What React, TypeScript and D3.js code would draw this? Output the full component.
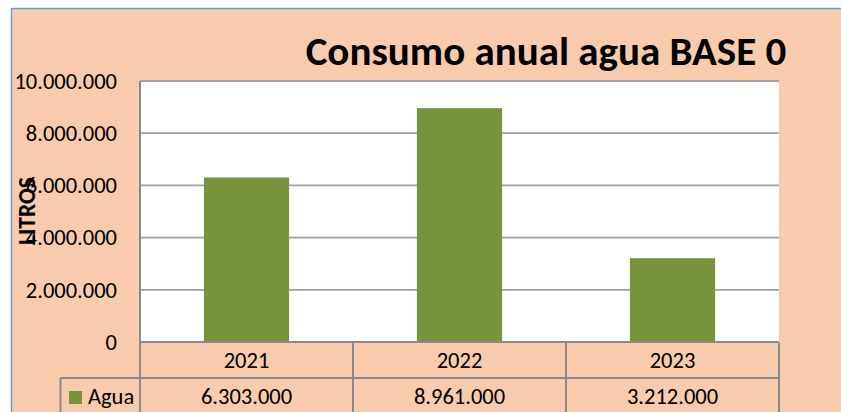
import React from "react";
import * as d3 from "d3";

const categories = ["2021", "2022", "2023"];
const seriesName = "Agua";
const values = [6303000, 8961000, 3212000];
const yTicks = [0, 2000000, 4000000, 6000000, 8000000, 10000000];
const title = "Consumo anual agua BASE 0";
const yTitle = "LITROS";

const W = 841;
const H = 412;
const FONT = "Carlito, Calibri, 'Liberation Sans', sans-serif";
const fmt = (v: number) => (v === 0 ? "0" : d3.format(",")(v).replace(/,/g, "."));

export default function App() {
  const left = 140, right = 779, top = 81, bottom = 342;
  const y = d3.scaleLinear().domain([0, 10000000]).range([bottom, top]);
  const x = d3.scaleBand<string>().domain(categories).range([left, right]).paddingInner(0.6).paddingOuter(0.3);
  const step = x.step();
  const row1 = 378;
  const rowBottom = 414;
  const grid = "#a0a0a0";
  const tbl = "#8a8a8a";
  return (
    <svg width={W} height={H} style={{ position: "absolute", left: 0, top: 0, display: "block" }} fontFamily={FONT}>
      <rect x={0} y={0} width={W} height={H} fill="#ffffff" />
      <rect x={11} y={8} width={W} height={H} fill="#F8CBAD" />
      <line x1={11} y1={8.5} x2={W} y2={8.5} stroke="#6c9bd6" strokeWidth={1.5} />
      <line x1={11.5} y1={8} x2={11.5} y2={H} stroke="#6c9bd6" strokeWidth={1.5} />
      <text x={546} y={65} textAnchor="middle" fontSize={41} fontWeight="bold" fill="#000">{title}</text>
      <rect x={left} y={top} width={right - left} height={bottom - top} fill="#ffffff" />
      {yTicks.map((t) => (
        <g key={t}>
          {t > 0 && <line x1={left} x2={right} y1={y(t)} y2={y(t)} stroke={grid} strokeWidth={1.8} />}
          <text x={117} y={y(t)} dy="0.35em" textAnchor="end" fontSize={22.5} fill="#000">{fmt(t)}</text>
        </g>
      ))}
      {values.map((v, i) => (
        <rect key={categories[i]} x={x(categories[i])!} y={y(v)} width={x.bandwidth()} height={bottom - y(v)} fill="#77933C" />
      ))}
      <text transform={`translate(35,211) rotate(-90)`} textAnchor="middle" fontSize={23.5} fontWeight="bold" fill="#000">{yTitle}</text>
      {/* table */}
      <line x1={left} x2={right} y1={bottom} y2={bottom} stroke={tbl} strokeWidth={2} />
      <line x1={60.5} x2={right} y1={row1} y2={row1} stroke={tbl} strokeWidth={2} />
      <line x1={left} x2={left} y1={top} y2={rowBottom} stroke={tbl} strokeWidth={2} />
      {categories.map((c, i) => (
        <line key={c} x1={left + step * (i + 1)} x2={left + step * (i + 1)} y1={bottom} y2={rowBottom} stroke={tbl} strokeWidth={2} />
      ))}
      <line x1={60.5} x2={60.5} y1={row1} y2={rowBottom} stroke={tbl} strokeWidth={2} />
      {categories.map((c, i) => (
        <g key={c}>
          <text x={x(c)! + x.bandwidth() / 2} y={(bottom + row1) / 2} dy="0.35em" textAnchor="middle" fontSize={22.5} fill="#000">{c}</text>
          <text x={x(c)! + x.bandwidth() / 2} y={(row1 + rowBottom) / 2} dy="0.35em" textAnchor="middle" fontSize={22.5} fill="#000">{fmt(values[i])}</text>
        </g>
      ))}
      <rect x={69} y={391} width={13} height={13} fill="#77933C" />
      <text x={88} y={(row1 + rowBottom) / 2} dy="0.35em" fontSize={22.5} fill="#000">{seriesName}</text>
    </svg>
  );
}
